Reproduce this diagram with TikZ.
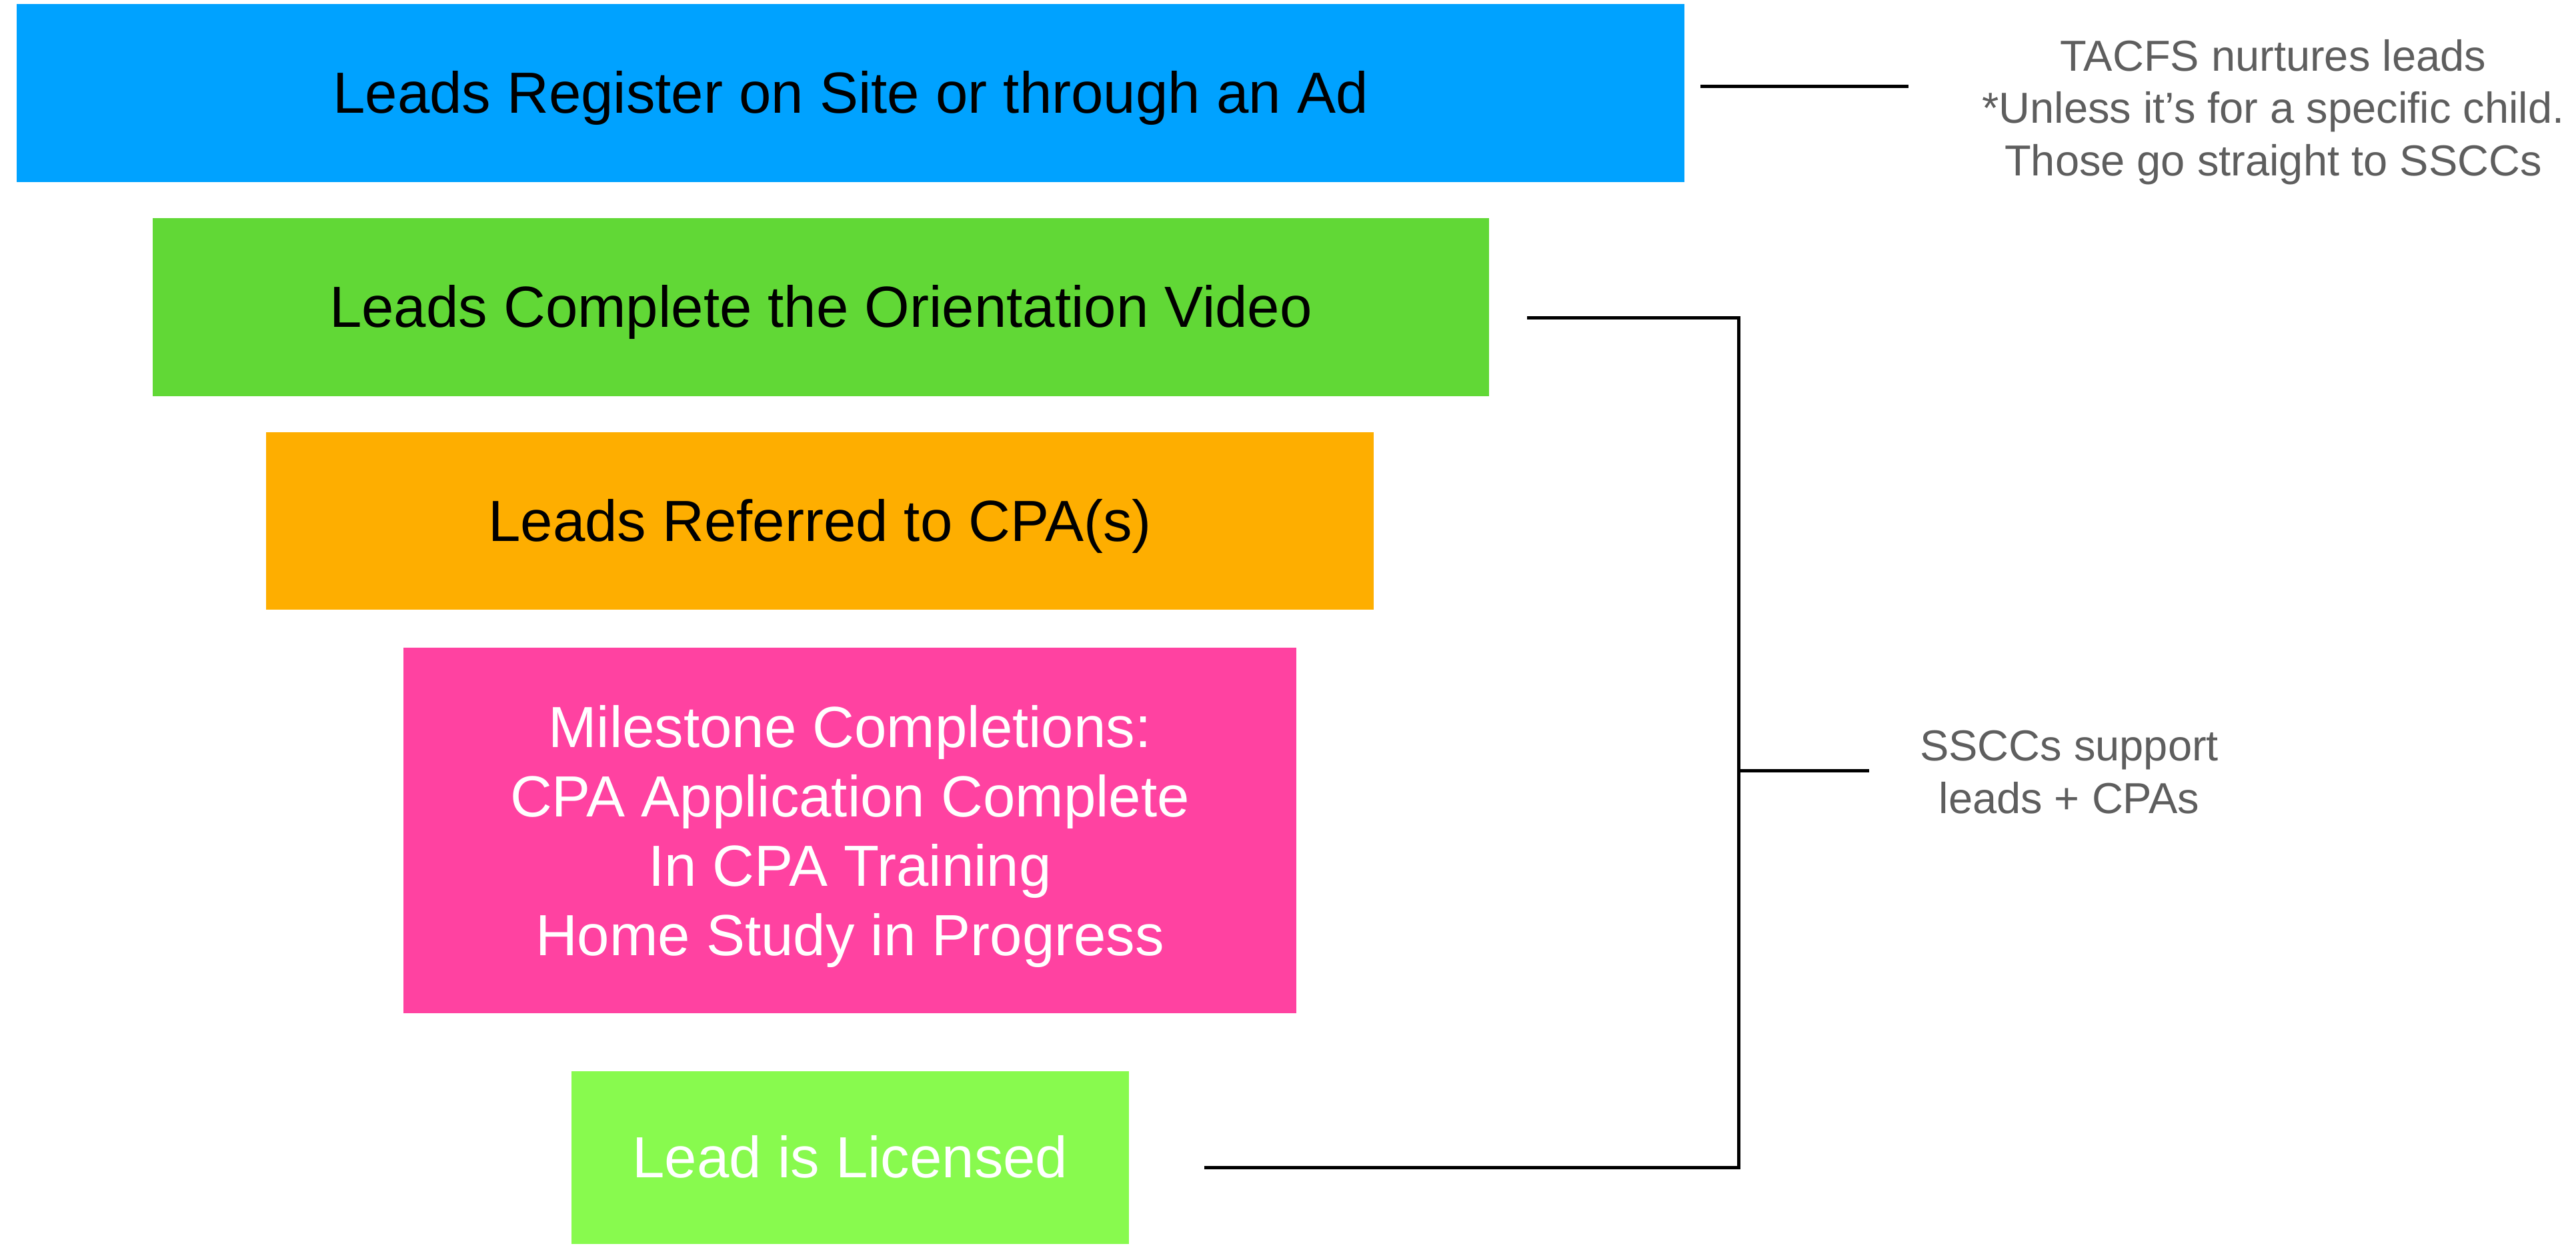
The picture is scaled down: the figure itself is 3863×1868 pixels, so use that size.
\documentclass[tikz,border=0pt]{standalone}
\usepackage{fontspec}
\setmainfont{Liberation Sans}
\definecolor{cblue}{HTML}{00A2FF}
\definecolor{cgreen}{HTML}{61D836}
\definecolor{corange}{HTML}{FEAE00}
\definecolor{cpink}{HTML}{FF42A1}
\definecolor{clime}{HTML}{88FA4E}
\definecolor{cgray}{HTML}{5E5E5E}
\begin{document}
\begin{tikzpicture}[x=1pt,y=-1pt,
  stagebox/.style={rectangle, inner sep=0pt, align=center, text height=60pt, text depth=0pt, font=\fontsize{87}{104}\selectfont},
  notetext/.style={align=center, inner sep=0pt, text=cgray, font=\fontsize{65}{78.5}\selectfont},
  conn/.style={line width=5pt, draw=black}]
\useasboundingbox (0,0) rectangle (3863,1868);
\fill[white] (0,0) rectangle (3863,1868);
\node[stagebox, fill=cblue, minimum width=2501pt, minimum height=267pt] (s1) at (1275.5,139.5) {Leads Register on Site or through an Ad};
\node[stagebox, fill=cgreen, minimum width=2004pt, minimum height=267pt] (s2) at (1231,460.5) {Leads Complete the Orientation Video};
\node[stagebox, fill=corange, minimum width=1661pt, minimum height=266pt] (s3) at (1229.5,781) {Leads Referred to CPA(s)};
\node[stagebox, text height=, fill=cpink, text=white, minimum width=1339pt, minimum height=548pt] (s4) at (1274.5,1245) {Milestone Completions:\\CPA Application Complete\\In CPA Training\\Home Study in Progress};
\node[stagebox, fill=clime, text=white, minimum width=836pt, minimum height=259pt] (s5) at (1275,1735.5) {Lead is Licensed};
% notes
\node[notetext, anchor=base] (n1) at (3409,263) {TACFS nurtures leads\\*Unless it’s for a specific child.\\Those go straight to SSCCs};
\node[notetext, anchor=base] (n2) at (3103,1219) {SSCCs support\\leads + CPAs};
% connectors
\coordinate (t1) at (2550,129);
\coordinate (t2) at (2862,129);
\draw[conn] (t1) -- (t2);
\coordinate (g1) at (2290,476);
\coordinate (bt) at (2607,476);
\coordinate (bm) at (2607,1155);
\coordinate (bb) at (2607,1750);
\coordinate (m2) at (2803,1155);
\coordinate (l1) at (1806,1750);
\draw[conn, line join=miter] (g1) -- (bt) -- (bb) -- (l1);
\draw[conn] (bm) -- (m2);
\end{tikzpicture}
\end{document}
